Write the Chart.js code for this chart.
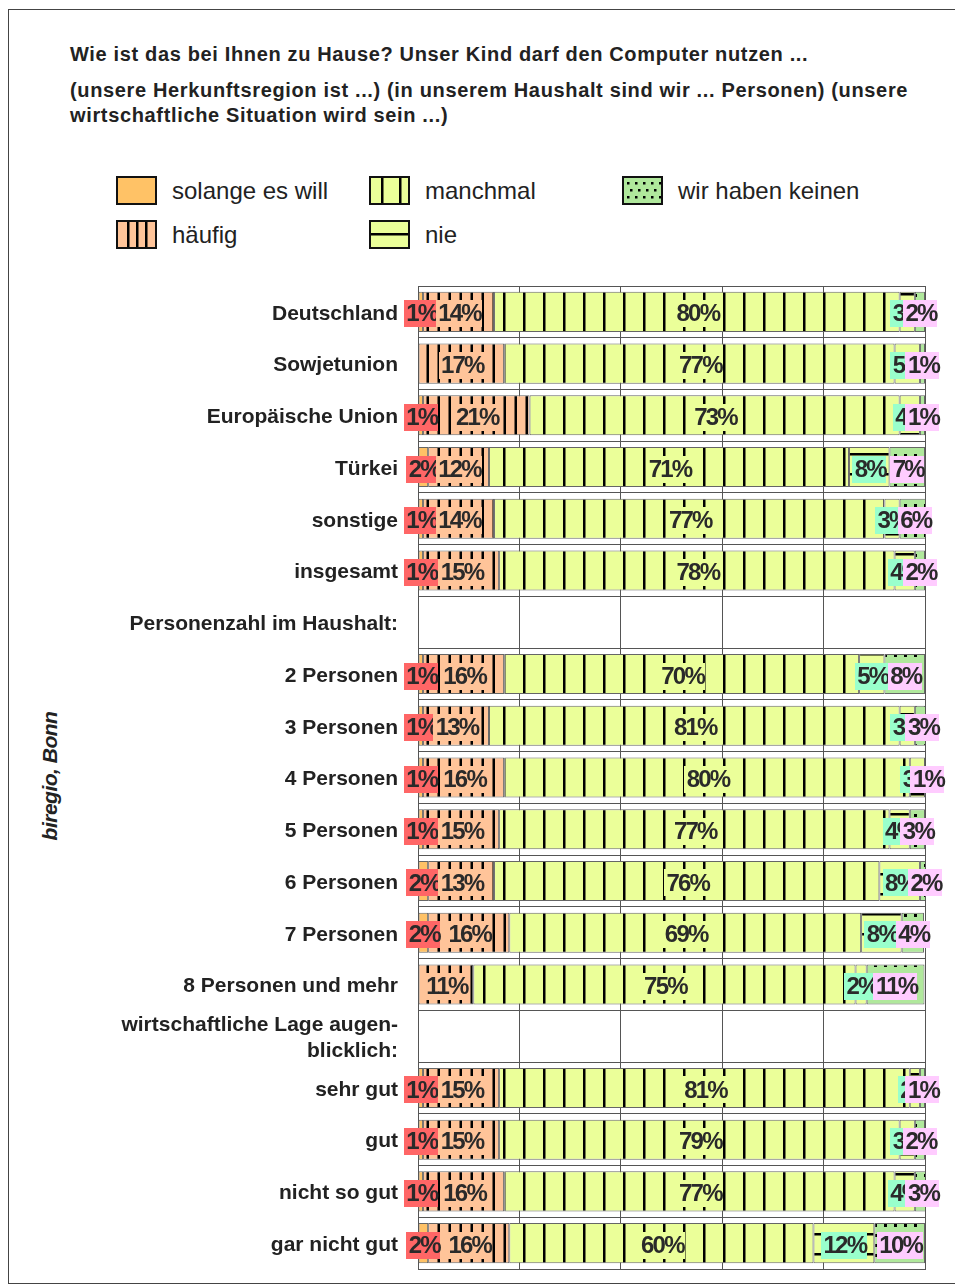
<!DOCTYPE html>
<html>
<head>
<meta charset="utf-8">
<script src="https://cdn.jsdelivr.net/npm/chart.js@4"></script>
<style>
  body { margin: 0; background: #fff; width: 955px; height: 1286px; overflow: hidden; position: relative;
         font-family: 'Liberation Sans', Arial, sans-serif; color: #222; }
  #frame { position: absolute; left: 8px; top: 9px; width: 980px; height: 1273px; border: 1px solid #444; }
  .title { position: absolute; left: 70px; font-weight: bold; font-size: 20px; line-height: 25px; letter-spacing: 0.65px; }
  .leg { position: absolute; font-size: 24px; line-height: 29px; }
  .leg canvas { position: absolute; left: 0; top: 0; }
  .leg span { position: absolute; left: 56px; top: 0; white-space: nowrap; }
  #side { position: absolute; left: 50px; top: 776px; transform: translate(-50%, -50%) rotate(-90deg);
          font-style: italic; font-weight: bold; font-size: 21px; white-space: nowrap; letter-spacing: -0.5px; }
  #wrap { position: absolute; left: 0; top: 270px; width: 955px; height: 1010px; }
</style>
</head>
<body>
<div id="frame"></div>
<div class="title" style="top:42px">Wie ist das bei Ihnen zu Hause? Unser Kind darf den Computer nutzen ...</div>
<div class="title" style="top:78px">(unsere Herkunftsregion ist ...) (in unserem Haushalt sind wir ... Personen) (unsere<br>wirtschaftliche Situation wird sein ...)</div>
<div id="legend"></div>
<div id="side">biregio, Bonn</div>
<div id="wrap"><canvas id="chart"></canvas></div>
<script>
// ---- data ----
const categories = [
  'Deutschland', 'Sowjetunion', 'Europäische Union', 'Türkei', 'sonstige', 'insgesamt',
  'Personenzahl im Haushalt:',
  '2 Personen', '3 Personen', '4 Personen', '5 Personen', '6 Personen', '7 Personen', '8 Personen und mehr',
  ['wirtschaftliche Lage augen-', 'blicklich:'],
  'sehr gut', 'gut', 'nicht so gut', 'gar nicht gut'
];
const seriesNames = ['solange es will', 'häufig', 'manchmal', 'nie', 'wir haben keinen'];
const solange  = [1, 0, 1, 2, 1, 1, null, 1, 1, 1, 1, 2, 2, 0, null, 1, 1, 1, 2];
const haeufig  = [14, 17, 21, 12, 14, 15, null, 16, 13, 16, 15, 13, 16, 10.9, null, 15, 15, 16, 16];
const manchmal = [80, 77, 73, 71, 77, 78, null, 70, 81, 80, 77, 76, 69.4, 75.4, null, 81, 79, 77, 60];
const nie      = [3, 5, 4, 8, 3, 4, null, 5, 3, 3, 4, 8, 8, 2.2, null, 2, 3, 4, 12];
const keinen   = [2, 1, 1, 7, 6, 2, null, 8, 3, 1, 3, 2, 4.4, 11.4, null, 1, 2, 3, 10];

const fills = ['#FFC266', '#FFC499', '#EBFF99', '#EBFF99', '#B0E89C'];
const labelBg = ['#FF6666', '#FFC499', '#EBFF99', '#99FFCC', '#FFCCFF'];

// pattern tiles
function makeTile(kind) {
  const c = document.createElement('canvas');
  let w = 20, h = 20;
  if (kind === 1) { w = 11; h = 11; }
  if (kind === 4) { w = 10; h = 10; }
  c.width = w; c.height = h;
  const g = c.getContext('2d');
  g.fillStyle = fills[kind];
  g.fillRect(0, 0, w, h);
  g.fillStyle = '#000';
  if (kind === 1) g.fillRect(8.5, 0, 2.5, h);
  if (kind === 2) g.fillRect(3, 0, 2.5, h);
  if (kind === 3) g.fillRect(0, 3, w, 2.5);
  if (kind === 4) g.fillRect(4, 4, 3, 3);
  return c;
}

function patternFor(ctx, kind) {
  if (kind === 0) return fills[0];
  return ctx.createPattern(makeTile(kind), 'repeat');
}

const ctx = document.getElementById('chart').getContext('2d');
const seriesData = [solange, haeufig, manchmal, nie, keinen];

// legend (html, column-major like the original)
const legendPos = [[116, 176], [116, 220], [369, 176], [369, 220], [622, 176]];
const legendEl = document.getElementById('legend');
seriesNames.forEach((name, i) => {
  const d = document.createElement('div');
  d.className = 'leg';
  d.style.left = legendPos[i][0] + 'px';
  d.style.top = legendPos[i][1] + 'px';
  const sw = document.createElement('canvas');
  sw.width = 41; sw.height = 29;
  const g = sw.getContext('2d');
  g.fillStyle = fills[i];
  g.fillRect(0, 0, 41, 29);
  g.fillStyle = '#000';
  if (i === 1) [11, 20, 29].forEach(x => g.fillRect(x, 0, 2.5, 29));
  if (i === 2) [12, 30].forEach(x => g.fillRect(x, 0, 2.5, 29));
  if (i === 3) g.fillRect(0, 13, 41, 2.5);
  if (i === 4) for (let y = 6; y < 27; y += 7) for (let x = 5; x < 38; x += 8) g.fillRect(x + (y % 2 ? 3 : 0), y, 2.5, 2.5);
  g.strokeStyle = '#111';
  g.lineWidth = 2;
  g.strokeRect(1, 1, 39, 27);
  d.appendChild(sw);
  const t = document.createElement('span');
  t.textContent = name;
  d.appendChild(t);
  legendEl.appendChild(d);
});

// percentage boxes centred on each segment
const segmentLabels = {
  id: 'segmentLabels',
  afterDatasetsDraw(chart) {
    const c = chart.ctx;
    c.save();
    c.font = 'bold 24px "Liberation Sans", Arial, sans-serif';
    c.letterSpacing = '-1.8px';
    c.textBaseline = 'middle';
    c.textAlign = 'center';
    chart.data.datasets.forEach((ds, i) => {
      chart.getDatasetMeta(i).data.forEach((el, j) => {
        const v = ds.data[j];
        if (!v) return;
        const txt = Math.round(v) + '%';
        const cx = (el.x + el.base) / 2;
        const cy = el.y + 2;
        const w = c.measureText(txt).width + 3;
        c.fillStyle = labelBg[i];
        c.fillRect(Math.round(cx - w / 2), Math.round(cy - 13.5), Math.round(w), 27);
        c.fillStyle = '#2a2a2a';
        c.fillText(txt, cx + 1, cy + 1);
      });
    });
    c.restore();
  }
};

new Chart(ctx, {
  type: 'bar',
  data: {
    labels: categories,
    datasets: seriesData.map((d, i) => ({
      label: seriesNames[i],
      data: d,
      backgroundColor: patternFor(ctx, i),
      borderColor: '#666',
      borderWidth: 1,
      borderSkipped: false,
      barPercentage: 0.86,
      categoryPercentage: 0.9
    }))
  },
  options: {
    indexAxis: 'y',
    responsive: true,
    maintainAspectRatio: false,
    animation: false,
    layout: { padding: { top: 16, bottom: 11, left: 0, right: 30 } },
    plugins: { legend: { display: false }, tooltip: { enabled: false } },
    scales: {
      x: {
        stacked: true,
        min: 0,
        max: 100,
        ticks: { display: false, stepSize: 20 },
        grid: { color: '#555', drawTicks: false },
        border: { color: '#555' }
      },
      y: {
        stacked: true,
        ticks: {
          autoSkip: false,
          padding: 20,
          labelOffset: 2,
          color: '#222',
          font: { family: "'Liberation Sans', Arial, sans-serif", size: 21, weight: 'bold', lineHeight: 1.2 }
        },
        grid: { color: '#555', drawTicks: false },
        border: { color: '#555' },
        afterFit(scale) {
          scale.width = 418;
          scale.paddingTop = 0;
          scale.paddingBottom = 0;
        }
      }
    }
  },
  plugins: [segmentLabels]
});
</script>
</body>
</html>
